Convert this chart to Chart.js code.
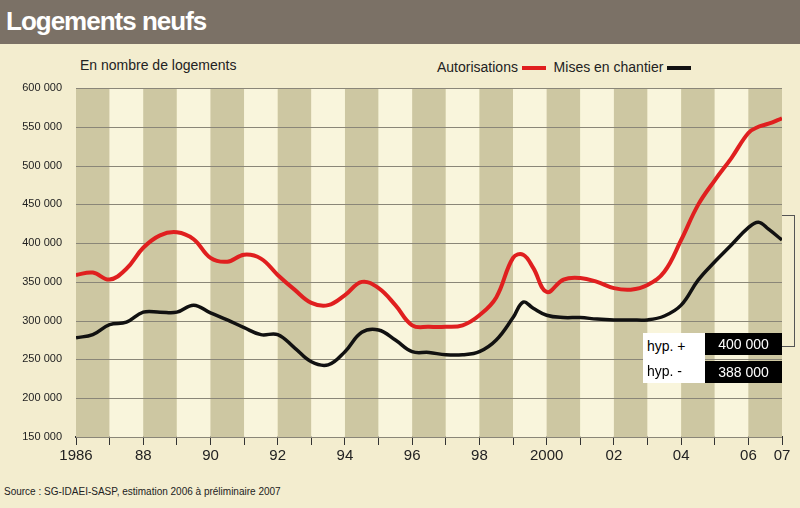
<!DOCTYPE html>
<html><head><meta charset="utf-8">
<script src="https://cdn.jsdelivr.net/npm/chart.js@4"></script>
<style>
body{margin:0;width:800px;height:508px;background:#f3edcf;font-family:"Liberation Sans",Arial,sans-serif;position:relative;overflow:hidden}
#bar{position:absolute;left:0;top:0;width:800px;height:44px;background:#7b7166}
#title{position:absolute;left:6px;top:6px;color:#fff;font:bold 26px "Liberation Sans Narrow","Liberation Sans",sans-serif;letter-spacing:-1px}
.t{position:absolute;font-size:14px;color:#222;white-space:nowrap}
canvas{position:absolute;left:0;top:0}
.box{position:absolute;font-size:14px;white-space:nowrap}
</style></head><body>
<div id="bar"></div><div id="title">Logements neufs</div>
<div class="t" style="left:80px;top:57px">En nombre de logements</div>
<div class="t" style="left:437px;top:59px">Autorisations <span style="display:inline-block;width:24px;height:4px;background:#e01f1f;vertical-align:middle"></span> &nbsp;Mises en chantier <span style="display:inline-block;width:24px;height:4px;background:#111;vertical-align:middle"></span></div>
<div class="t" style="left:4px;top:486px;font-size:10px">Source : SG-IDAEI-SASP, estimation 2006 à préliminaire 2007</div>
<canvas id="c" width="800" height="508"></canvas>
<div class="box" style="left:643px;top:333px;width:58px;height:26px;background:#fff;line-height:26px;padding-left:4px">hyp. +</div>
<div class="box" style="left:705px;top:333px;width:77px;height:22px;background:#000;color:#fff;line-height:22px;text-align:center">400 000</div>
<div class="box" style="left:643px;top:359px;width:58px;height:24px;background:#fff;line-height:24px;padding-left:4px">hyp. -</div>
<div class="box" style="left:705px;top:361px;width:77px;height:22px;background:#000;color:#fff;line-height:22px;text-align:center">388 000</div>
<div style="position:absolute;left:782px;top:215px;width:12px;height:130px;border:1px solid #555;border-left:none"></div>
<script>
const years=[1986,1986.5,1987,1987.5,1988,1988.5,1989,1989.5,1990,1990.5,1991,1991.5,1992,1992.5,1993,1993.5,1994,1994.5,1995,1995.5,1996,1996.5,1997,1997.5,1998,1998.5,1999,1999.3,1999.6,2000,2000.5,2001,2001.5,2002,2002.5,2003,2003.5,2004,2004.5,2005,2005.5,2006,2006.3,2006.6,2007];
const autorisations=[359,362,353,367,394,410,414,405,381,376,385,380,359,340,323,320,333,350,342,320,294,292,292,294,307,330,381,385,368,337,353,355,350,342,340,346,363,404,449,481,510,542,550,554,561].map(v=>v*1000);
const chantier=[278,282,295,298,311,311,311,320,310,301,291,282,282,265,247,243,260,285,288,275,260,259,256,256,260,275,304,324,316,307,304,304,302,301,301,301,306,320,352,376,398,420,427,418,404].map(v=>v*1000);
const yTicks=[150000,200000,250000,300000,350000,400000,450000,500000,550000,600000];
const xLabels={1986:'1986',1988:'88',1990:'90',1992:'92',1994:'94',1996:'96',1998:'98',2000:'2000',2002:'02',2004:'04',2006:'06',2007:'07'};
const stripes={id:'stripes',beforeDatasetsDraw(ch){const {ctx,chartArea:a,scales:{x}}=ch;ctx.save();
 for(let y=1986;y<2007;y++){ctx.fillStyle=(y%2===0)?'#cdc7a2':'#f9f5dc';const x0=x.getPixelForValue(y),x1=x.getPixelForValue(y+1);ctx.fillRect(x0,a.top,x1-x0,a.bottom-a.top);}
 ctx.strokeStyle='#8a8678';ctx.lineWidth=1;const yy=ch.scales.y;yTicks.forEach(t=>{const p=Math.round(yy.getPixelForValue(t))+0.5;ctx.beginPath();ctx.moveTo(a.left,p);ctx.lineTo(a.right,p);ctx.stroke();});
 ctx.restore();}};
const mk=(d)=>years.map((x,i)=>({x,y:d[i]}));
new Chart(document.getElementById('c'),{type:'line',
data:{datasets:[{data:mk(autorisations),borderColor:'#e01f1f',borderWidth:4,pointRadius:0,tension:0.4},{data:mk(chantier),borderColor:'#111',borderWidth:3.5,pointRadius:0,tension:0.4}]},
options:{responsive:false,animation:false,events:[],layout:{padding:{top:88,right:18}},
plugins:{legend:{display:false},tooltip:{enabled:false}},
scales:{x:{type:'linear',min:1986,max:2007,afterFit:s=>{s.height=71},
 afterBuildTicks:s=>{s.ticks=[];for(let y=1986;y<=2007;y++)s.ticks.push({value:y});},
 grid:{display:true,drawOnChartArea:false,tickLength:8,color:'#333'},border:{color:'#333',width:2},
 ticks:{autoSkip:false,maxRotation:0,color:'#222',font:{size:15},padding:2,callback:v=>xLabels[v]||''}},
 y:{min:150000,max:600000,afterFit:s=>{s.width=76},afterBuildTicks:s=>{s.ticks=yTicks.map(v=>({value:v}))},
 grid:{display:false},border:{display:false},
 ticks:{color:'#222',font:{size:11},padding:6,callback:v=>(v/1000)+' 000'}}}},
plugins:[stripes]});
</script></body></html>
